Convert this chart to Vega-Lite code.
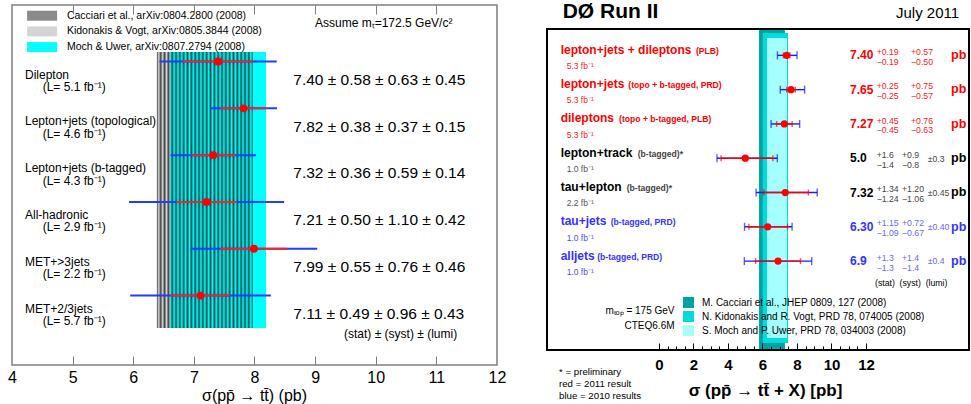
{
"$schema": "https://vega.github.io/schema/vega-lite/v6.json",
"width": 971, "height": 404, "padding": 0,
"autosize": {"type": "fit", "contains": "padding"},
"background": "white",
"datasets": {
"left": [
{"row":1,"name":"Dilepton","lumi":"(L= 5.1 fb\u207b\u00b9)","val":7.40,"statLo":6.82,"statHi":7.98,"totLo":6.433,"totHi":8.367,"txt":"7.40 ± 0.58 ± 0.63 ± 0.45"},
{"row":2,"name":"Lepton+jets (topological)","lumi":"(L= 4.6 fb\u207b\u00b9)","val":7.82,"statLo":7.44,"statHi":8.20,"totLo":7.269,"totHi":8.371,"txt":"7.82 ± 0.38 ± 0.37 ± 0.15"},
{"row":3,"name":"Lepton+jets (b-tagged)","lumi":"(L= 4.3 fb\u207b\u00b9)","val":7.32,"statLo":6.96,"statHi":7.68,"totLo":6.615,"totHi":8.025,"txt":"7.32 ± 0.36 ± 0.59 ± 0.14"},
{"row":4,"name":"All-hadronic","lumi":"(L= 2.9 fb\u207b\u00b9)","val":7.21,"statLo":6.71,"statHi":7.71,"totLo":5.931,"totHi":8.489,"txt":"7.21 ± 0.50 ± 1.10 ± 0.42"},
{"row":5,"name":"MET+>3jets","lumi":"(L= 2.2 fb\u207b\u00b9)","val":7.99,"statLo":7.44,"statHi":8.54,"totLo":6.945,"totHi":9.035,"txt":"7.99 ± 0.55 ± 0.76 ± 0.46"},
{"row":6,"name":"MET+2/3jets","lumi":"(L= 5.7 fb\u207b\u00b9)","val":7.11,"statLo":6.62,"statHi":7.60,"totLo":5.950,"totHi":8.270,"txt":"7.11 ± 0.49 ± 0.96 ± 0.43"}
],
"right": [
{"row":1,"name":"lepton+jets + dileptons","sub":"(PLB)","lumi":"5.3 fb\u207b\u00b9","grp":"2011","val":7.40,"valTxt":"7.40","stat":["+0.19","\u22120.19"],"syst":["+0.57","\u22120.50"],"lumiErr":"","statLo":7.21,"statHi":7.59,"totLo":6.865,"totHi":8.001},
{"row":2,"name":"lepton+jets","sub":"(topo + b-tagged, PRD)","lumi":"5.3 fb\u207b\u00b9","grp":"2011","val":7.65,"valTxt":"7.65","stat":["+0.25","\u22120.25"],"syst":["+0.75","\u22120.57"],"lumiErr":"","statLo":7.40,"statHi":7.90,"totLo":7.028,"totHi":8.441},
{"row":3,"name":"dileptons","sub":"(topo + b-tagged, PLB)","lumi":"5.3 fb\u207b\u00b9","grp":"2011","val":7.27,"valTxt":"7.27","stat":["+0.45","\u22120.45"],"syst":["+0.76","\u22120.63"],"lumiErr":"","statLo":6.82,"statHi":7.72,"totLo":6.496,"totHi":8.153},
{"row":4,"name":"lepton+track","sub":"(b-tagged)*","lumi":"1.0 fb\u207b\u00b9","grp":"prelim","val":5.0,"valTxt":"5.0","stat":["+1.6","\u22121.4"],"syst":["+0.9","\u22120.8"],"lumiErr":"±0.3","statLo":3.6,"statHi":6.6,"totLo":3.36,"totHi":6.86},
{"row":5,"name":"tau+lepton","sub":"(b-tagged)*","lumi":"2.2 fb\u207b\u00b9","grp":"prelim","val":7.32,"valTxt":"7.32","stat":["+1.34","\u22121.24"],"syst":["+1.20","\u22121.06"],"lumiErr":"±0.45","statLo":6.08,"statHi":8.66,"totLo":5.628,"totHi":9.174},
{"row":6,"name":"tau+jets","sub":"(b-tagged, PRD)","lumi":"1.0 fb\u207b\u00b9","grp":"2010","val":6.30,"valTxt":"6.30","stat":["+1.15","\u22121.09"],"syst":["+0.72","\u22120.67"],"lumiErr":"±0.40","statLo":5.21,"statHi":7.45,"totLo":4.959,"totHi":7.715},
{"row":7,"name":"alljets","sub":"(b-tagged, PRD)","lumi":"1.0 fb\u207b\u00b9","grp":"2010","val":6.9,"valTxt":"6.9","stat":["+1.3","\u22121.3"],"syst":["+1.4","\u22121.4"],"lumiErr":"±0.4","statLo":5.6,"statHi":8.2,"totLo":4.948,"totHi":8.852}
],
"theoryL": [
{"kind":"K","ref":"Kidonakis & Vogt, arXiv:0805.3844 (2008)","lo":6.39,"hi":8.04},
{"kind":"M","ref":"Moch & Uwer, arXiv:0807.2794 (2008)","lo":6.61,"hi":8.19},
{"kind":"C","ref":"Cacciari et al., arXiv:0804.2800 (2008)","lo":6.39,"hi":7.97}
],
"theoryR": [
{"kind":"C","ref":"M. Cacciari et al., JHEP 0809, 127 (2008)","lo":5.80,"hi":7.30},
{"kind":"K","ref":"N. Kidonakis and R. Vogt, PRD 78, 074005 (2008)","lo":6.02,"hi":7.48},
{"kind":"M","ref":"S. Moch and P. Uwer, PRD 78, 034003 (2008)","lo":6.26,"hi":7.42}
],
"one": [{}]
},
"resolve": {"scale": {"x": "independent", "y": "independent"}},
"layer": [
{"data":{"name":"theoryL"},"transform":[{"filter":"datum.kind !== 'C'"}],
 "mark":{"type":"rect"},
 "encoding":{
  "x":{"field":"lo","type":"quantitative","scale":{"domain":[3.802,19.819]},"axis":null},
  "x2":{"field":"hi"},
  "y":{"datum":0.7966,"type":"quantitative","scale":{"domain":[-0.314,8.3148],"reverse":true},"axis":null},
  "y2":{"datum":6.6915},
  "fill":{"field":"ref","type":"nominal",
   "scale":{"domain":["Cacciari et al., arXiv:0804.2800 (2008)","Kidonakis & Vogt, arXiv:0805.3844 (2008)","Moch & Uwer, arXiv:0807.2794 (2008)"],"range":["#8a8a8a","#d4d4d4","#00ffff"]},
   "legend":{"orient":"none","legendX":36.6,"legendY":10.2,"title":null,"symbolType":"M-3,-1H3V1H-3Z","symbolSize":100,"symbolStrokeColor":"#000","symbolStrokeWidth":0.8,"symbolOpacity":1,"labelFontSize":10.5,"labelOffset":19.3,"rowPadding":0.7,"padding":0,"labelLimit":500,"labelColor":"#000",
    "encode":{"symbols":{"update":{"fill":[
     {"test":"datum.index === 0","value":{"gradient":"linear","x1":0,"y1":0,"x2":1,"y2":0,"stops":[{"offset":0,"color":"#333"},{"offset":0.05,"color":"#fff"},{"offset":0.1,"color":"#333"},{"offset":0.15,"color":"#fff"},{"offset":0.2,"color":"#333"},{"offset":0.25,"color":"#fff"},{"offset":0.3,"color":"#333"},{"offset":0.35,"color":"#fff"},{"offset":0.4,"color":"#333"},{"offset":0.45,"color":"#fff"},{"offset":0.5,"color":"#333"},{"offset":0.55,"color":"#fff"},{"offset":0.6,"color":"#333"},{"offset":0.65,"color":"#fff"},{"offset":0.7,"color":"#333"},{"offset":0.75,"color":"#fff"},{"offset":0.8,"color":"#333"},{"offset":0.85,"color":"#fff"},{"offset":0.9,"color":"#333"},{"offset":0.95,"color":"#fff"},{"offset":1,"color":"#333"}]}},
     {"test":"datum.index === 1","value":{"gradient":"linear","x1":0,"y1":0,"x2":1,"y2":0.3333,"stops":[{"offset":0,"color":"#555"},{"offset":0.06,"color":"#fff"},{"offset":0.12,"color":"#555"},{"offset":0.18,"color":"#fff"},{"offset":0.24,"color":"#555"},{"offset":0.3,"color":"#fff"},{"offset":0.36,"color":"#555"},{"offset":0.42,"color":"#fff"},{"offset":0.48,"color":"#555"},{"offset":0.54,"color":"#fff"},{"offset":0.6,"color":"#555"},{"offset":0.66,"color":"#fff"},{"offset":0.72,"color":"#555"},{"offset":0.78,"color":"#fff"},{"offset":0.84,"color":"#555"},{"offset":0.9,"color":"#fff"},{"offset":0.96,"color":"#555"},{"offset":1,"color":"#fff"}]}},
     {"value":"#00ffff"}]}}}}}
 }},
{"data":{"name":"theoryL"},"transform":[{"filter":"datum.kind === 'C'"}],
 "mark":{"type":"rect","fill":{"gradient":"linear","x1":0,"y1":0,"x2":1,"y2":0,"stops":[
 {"offset":0,"color":"rgba(20,20,20,0.75)"},{"offset":0.02,"color":"rgba(20,20,20,0)"},{"offset":0.04,"color":"rgba(20,20,20,0.75)"},{"offset":0.06,"color":"rgba(20,20,20,0)"},{"offset":0.08,"color":"rgba(20,20,20,0.75)"},{"offset":0.1,"color":"rgba(20,20,20,0)"},{"offset":0.12,"color":"rgba(20,20,20,0.75)"},{"offset":0.14,"color":"rgba(20,20,20,0)"},{"offset":0.16,"color":"rgba(20,20,20,0.75)"},{"offset":0.18,"color":"rgba(20,20,20,0)"},{"offset":0.2,"color":"rgba(20,20,20,0.75)"},{"offset":0.22,"color":"rgba(20,20,20,0)"},{"offset":0.24,"color":"rgba(20,20,20,0.75)"},{"offset":0.26,"color":"rgba(20,20,20,0)"},{"offset":0.28,"color":"rgba(20,20,20,0.75)"},{"offset":0.3,"color":"rgba(20,20,20,0)"},{"offset":0.32,"color":"rgba(20,20,20,0.75)"},{"offset":0.34,"color":"rgba(20,20,20,0)"},{"offset":0.36,"color":"rgba(20,20,20,0.75)"},{"offset":0.38,"color":"rgba(20,20,20,0)"},{"offset":0.4,"color":"rgba(20,20,20,0.75)"},{"offset":0.42,"color":"rgba(20,20,20,0)"},{"offset":0.44,"color":"rgba(20,20,20,0.75)"},{"offset":0.46,"color":"rgba(20,20,20,0)"},{"offset":0.48,"color":"rgba(20,20,20,0.75)"},{"offset":0.5,"color":"rgba(20,20,20,0)"},{"offset":0.52,"color":"rgba(20,20,20,0.75)"},{"offset":0.54,"color":"rgba(20,20,20,0)"},{"offset":0.56,"color":"rgba(20,20,20,0.75)"},{"offset":0.58,"color":"rgba(20,20,20,0)"},{"offset":0.6,"color":"rgba(20,20,20,0.75)"},{"offset":0.62,"color":"rgba(20,20,20,0)"},{"offset":0.64,"color":"rgba(20,20,20,0.75)"},{"offset":0.66,"color":"rgba(20,20,20,0)"},{"offset":0.68,"color":"rgba(20,20,20,0.75)"},{"offset":0.7,"color":"rgba(20,20,20,0)"},{"offset":0.72,"color":"rgba(20,20,20,0.75)"},{"offset":0.74,"color":"rgba(20,20,20,0)"},{"offset":0.76,"color":"rgba(20,20,20,0.75)"},{"offset":0.78,"color":"rgba(20,20,20,0)"},{"offset":0.8,"color":"rgba(20,20,20,0.75)"},{"offset":0.82,"color":"rgba(20,20,20,0)"},{"offset":0.84,"color":"rgba(20,20,20,0.75)"},{"offset":0.86,"color":"rgba(20,20,20,0)"},{"offset":0.88,"color":"rgba(20,20,20,0.75)"},{"offset":0.9,"color":"rgba(20,20,20,0)"},{"offset":0.92,"color":"rgba(20,20,20,0.75)"},{"offset":0.94,"color":"rgba(20,20,20,0)"},{"offset":0.96,"color":"rgba(20,20,20,0.75)"},{"offset":0.98,"color":"rgba(20,20,20,0)"},{"offset":1,"color":"rgba(20,20,20,0.75)"}]}},
 "encoding":{
  "x":{"field":"lo","type":"quantitative","scale":{"domain":[3.802,19.819]},"axis":null},
  "x2":{"field":"hi"},
  "y":{"datum":0.7966,"type":"quantitative","scale":{"domain":[-0.314,8.3148],"reverse":true},"axis":null},
  "y2":{"datum":6.6915}
 }},
{"data":{"name":"left"},
 "mark":{"type":"rule","color":"#1f3fff","strokeWidth":2},
 "encoding":{
  "x":{"field":"totLo","type":"quantitative","scale":{"domain":[3.802,19.819]},
   "axis":{"orient":"bottom","offset":-39,"ticks":false,"values":[4,5,6,7,8,9,10,11,12],"labelFontSize":16,"labelPadding":4,"title":"σ(pp\u0304 → tt\u0304) (pb)","titleFontSize":16,"titleFontWeight":"normal","titleX":254,"titleY":35.5,"titleBaseline":"alphabetic","titleAlign":"center","zindex":1}},
  "x2":{"field":"totHi"},
  "y":{"field":"row","type":"quantitative","scale":{"domain":[-0.314,8.3148],"reverse":true},"axis":null}
 }},
{"data":{"name":"left"},
 "mark":{"type":"rule","color":"#ff1f1f","strokeWidth":2},
 "encoding":{
  "x":{"field":"statLo","type":"quantitative","scale":{"domain":[3.802,19.819]},
   "axis":{"orient":"top","offset":-5,"labels":false,"tickSize":-9,"tickColor":"#7f7f7f","values":[5,6,7,8,9,10,11],"title":null,"zindex":1}},
  "x2":{"field":"statHi"},
  "y":{"field":"row","type":"quantitative","scale":{"domain":[-0.314,8.3148],"reverse":true},"axis":null}
 }},
{"data":{"name":"left"},
 "mark":{"type":"point","filled":true,"color":"#ff0000","size":62,"opacity":1},
 "encoding":{
  "x":{"field":"val","type":"quantitative","scale":{"domain":[3.802,19.819]},"axis":null},
  "y":{"field":"row","type":"quantitative","scale":{"domain":[-0.314,8.3148],"reverse":true},"axis":null}
 }},
{"data":{"name":"left"},
 "mark":{"type":"text","align":"left","baseline":"alphabetic","dy":17,"fontSize":12,"color":"#000"},
 "encoding":{
  "x":{"datum":4.214,"type":"quantitative","scale":{"domain":[3.802,19.819]},"axis":null},
  "y":{"field":"row","type":"quantitative","scale":{"domain":[-0.314,8.3148],"reverse":true},"axis":null},
  "text":{"field":"name"}
 }},
{"data":{"name":"left"},
 "mark":{"type":"text","align":"left","baseline":"alphabetic","dy":29.5,"fontSize":12,"color":"#000"},
 "encoding":{
  "x":{"datum":4.506,"type":"quantitative","scale":{"domain":[3.802,19.819]},"axis":null},
  "y":{"field":"row","type":"quantitative","scale":{"domain":[-0.314,8.3148],"reverse":true},"axis":null},
  "text":{"field":"lumi"}
 }},
{"data":{"name":"left"},
 "mark":{"type":"text","align":"left","baseline":"alphabetic","dy":23.3,"fontSize":15.5,"color":"#000"},
 "encoding":{
  "x":{"datum":8.640,"type":"quantitative","scale":{"domain":[3.802,19.819]},"axis":null},
  "y":{"field":"row","type":"quantitative","scale":{"domain":[-0.314,8.3148],"reverse":true},"axis":null},
  "text":{"field":"txt"}
 }},
{"data":{"name":"one"},
 "mark":{"type":"text","align":"left","baseline":"alphabetic","fontSize":12,"color":"#000","text":"(stat) ± (syst) ± (lumi)"},
 "encoding":{
  "x":{"datum":9.476,"type":"quantitative","scale":{"domain":[3.802,19.819]},"axis":null},
  "y":{"datum":6.8945,"type":"quantitative","scale":{"domain":[-0.314,8.3148],"reverse":true},"axis":null}
 }},
{"data":{"name":"one"},
 "mark":{"type":"text","align":"left","baseline":"alphabetic","fontSize":12,"color":"#000","text":"Assume m\u209c=172.5 GeV/c\u00b2"},
 "encoding":{
  "x":{"datum":8.998,"type":"quantitative","scale":{"domain":[3.802,19.819]},"axis":null},
  "y":{"datum":0.252,"type":"quantitative","scale":{"domain":[-0.314,8.3148],"reverse":true},"axis":null}
 }},
{"data":{"name":"one"},
 "mark":{"type":"rect","filled":false,"color":"#7f7f7f","strokeWidth":1.5},
 "encoding":{
  "x":{"datum":4,"type":"quantitative","scale":{"domain":[3.802,19.819]},
   "axis":{"orient":"bottom","offset":-39,"labels":false,"tickSize":-9,"tickColor":"#7f7f7f","values":[5,6,7,8,9,10,11],"title":null,"zindex":1}},
  "x2":{"datum":12},
  "y":{"datum":-0.2072,"type":"quantitative","scale":{"domain":[-0.314,8.3148],"reverse":true},"axis":null},
  "y2":{"datum":7.4818}
 }},
{"data":{"name":"theoryR"},"transform":[{"filter":"datum.kind === 'C'"}],
 "mark":{"type":"rect"},
 "encoding":{
  "x":{"field":"lo","type":"quantitative","scale":{"domain":[-38.203,18.087]},
   "axis":{"orient":"bottom","offset":-54,"labels":false,"tickSize":-4,"tickColor":"#000","values":[0,0.5,1,1.5,2,2.5,3,3.5,4,4.5,5,5.5,6,6.5,7,7.5,8,8.5,9,9.5,10,10.5,11,11.5,12],"title":null,"zindex":1}},
  "x2":{"field":"hi"},
  "y":{"datum":0.2313,"type":"quantitative","scale":{"domain":[-0.6145,11.1674],"reverse":true},"axis":null},
  "y2":{"datum":9.5929},
  "color":{"field":"ref","type":"nominal","scale":{"domain":["M. Cacciari et al., JHEP 0809, 127 (2008)","N. Kidonakis and R. Vogt, PRD 78, 074005 (2008)","S. Moch and P. Uwer, PRD 78, 034003 (2008)"],"range":["#00a3a3","#00dcdc","#a6ffff"]},
   "legend":{"orient":"none","legendX":683,"legendY":297,"title":null,"symbolType":"square","symbolSize":121,"symbolStrokeWidth":0,"symbolOpacity":1,"labelFontSize":10,"labelOffset":8,"rowPadding":3,"padding":0,"labelLimit":500,"labelColor":"#000"}}
 }},
{"data":{"name":"theoryR"},"transform":[{"filter":"datum.kind === 'K'"}],
 "mark":{"type":"rect"},
 "encoding":{
  "x":{"field":"lo","type":"quantitative","scale":{"domain":[-38.203,18.087]},"axis":null},
  "x2":{"field":"hi"},
  "y":{"datum":0.348,"type":"quantitative","scale":{"domain":[-0.6145,11.1674],"reverse":true},"axis":null},
  "y2":{"datum":9.3887},
  "color":{"field":"ref","type":"nominal","scale":{"domain":["M. Cacciari et al., JHEP 0809, 127 (2008)","N. Kidonakis and R. Vogt, PRD 78, 074005 (2008)","S. Moch and P. Uwer, PRD 78, 034003 (2008)"],"range":["#00a3a3","#00dcdc","#a6ffff"]},
   "legend":{"orient":"none","legendX":683,"legendY":297,"title":null,"symbolType":"square","symbolSize":121,"symbolStrokeWidth":0,"symbolOpacity":1,"labelFontSize":10,"labelOffset":8,"rowPadding":3,"padding":0,"labelLimit":500,"labelColor":"#000"}}
 }},
{"data":{"name":"theoryR"},"transform":[{"filter":"datum.kind === 'M'"}],
 "mark":{"type":"rect"},
 "encoding":{
  "x":{"field":"lo","type":"quantitative","scale":{"domain":[-38.203,18.087]},"axis":null},
  "x2":{"field":"hi"},
  "y":{"datum":0.4938,"type":"quantitative","scale":{"domain":[-0.6145,11.1674],"reverse":true},"axis":null},
  "y2":{"datum":9.2429},
  "color":{"field":"ref","type":"nominal","scale":{"domain":["M. Cacciari et al., JHEP 0809, 127 (2008)","N. Kidonakis and R. Vogt, PRD 78, 074005 (2008)","S. Moch and P. Uwer, PRD 78, 034003 (2008)"],"range":["#00a3a3","#00dcdc","#a6ffff"]},
   "legend":{"orient":"none","legendX":683,"legendY":297,"title":null,"symbolType":"square","symbolSize":121,"symbolStrokeWidth":0,"symbolOpacity":1,"labelFontSize":10,"labelOffset":8,"rowPadding":3,"padding":0,"labelLimit":500,"labelColor":"#000"}}
 }},
{"data":{"name":"right"},
 "mark":{"type":"errorbar","color":"#1a1aff","thickness":1.4,"size":8,"ticks":true},
 "encoding":{
  "x":{"field":"totLo","type":"quantitative","scale":{"domain":[-38.203,18.087]},
   "axis":{"orient":"bottom","offset":-54,"ticks":false,"values":[0,2,4,6,8,10,12],"labelFontSize":15,"labelFontWeight":"bold","labelPadding":7,"title":"σ (pp\u0304 → tt\u0304 + X) [pb]","titleFontSize":17,"titleFontWeight":"bold","titleX":765,"titleY":45.5,"titleBaseline":"alphabetic","titleAlign":"center","zindex":1}},
  "x2":{"field":"totHi"},
  "y":{"field":"row","type":"quantitative","scale":{"domain":[-0.6145,11.1674],"reverse":true},"axis":null}
 }},
{"data":{"name":"right"},
 "mark":{"type":"errorbar","color":"#ff0000","thickness":1.4,"size":6,"ticks":true},
 "encoding":{
  "x":{"field":"statLo","type":"quantitative","scale":{"domain":[-38.203,18.087]},"axis":null},
  "x2":{"field":"statHi"},
  "y":{"field":"row","type":"quantitative","scale":{"domain":[-0.6145,11.1674],"reverse":true},"axis":null}
 }},
{"data":{"name":"right"},
 "mark":{"type":"point","filled":true,"color":"#ff0000","size":52,"opacity":1},
 "encoding":{
  "x":{"field":"val","type":"quantitative","scale":{"domain":[-38.203,18.087]},"axis":null},
  "y":{"field":"row","type":"quantitative","scale":{"domain":[-0.6145,11.1674],"reverse":true},"axis":null}
 }},
{"data":{"name":"right"},
 "mark":{"type":"text","align":"left","baseline":"alphabetic","dy":-1.6,"fontSize":12,"fontWeight":"bold"},
 "encoding":{
  "x":{"datum":-5.699,"type":"quantitative","scale":{"domain":[-38.203,18.087]},"axis":null},
  "y":{"field":"row","type":"quantitative","scale":{"domain":[-0.6145,11.1674],"reverse":true},"axis":null},
  "text":{"field":"name"},
  "color":{"condition":[{"test":"datum.grp === '2011'","value":"#ff0000"},{"test":"datum.grp === 'prelim'","value":"#000000"}],"value":"#3333ff"}
 }},
{"data":{"name":"right"},"transform":[{"filter":"datum.row === 1"}],
 "mark":{"type":"text","align":"left","baseline":"alphabetic","dy":-1.6,"fontSize":8.6,"fontWeight":"bold"},
 "encoding":{
  "x":{"datum":2.145,"type":"quantitative","scale":{"domain":[-38.203,18.087]},"axis":null},
  "y":{"field":"row","type":"quantitative","scale":{"domain":[-0.6145,11.1674],"reverse":true},"axis":null},
  "text":{"field":"sub"},
  "color":{"condition":[{"test":"datum.grp === '2011'","value":"#ff0000"},{"test":"datum.grp === 'prelim'","value":"#444444"}],"value":"#3333ff"}
 }},
{"data":{"name":"right"},"transform":[{"filter":"datum.row === 2"}],
 "mark":{"type":"text","align":"left","baseline":"alphabetic","dy":-1.6,"fontSize":8.6,"fontWeight":"bold"},
 "encoding":{
  "x":{"datum":-1.777,"type":"quantitative","scale":{"domain":[-38.203,18.087]},"axis":null},
  "y":{"field":"row","type":"quantitative","scale":{"domain":[-0.6145,11.1674],"reverse":true},"axis":null},
  "text":{"field":"sub"},
  "color":{"condition":[{"test":"datum.grp === '2011'","value":"#ff0000"},{"test":"datum.grp === 'prelim'","value":"#444444"}],"value":"#3333ff"}
 }},
{"data":{"name":"right"},"transform":[{"filter":"datum.row === 3"}],
 "mark":{"type":"text","align":"left","baseline":"alphabetic","dy":-1.6,"fontSize":8.6,"fontWeight":"bold"},
 "encoding":{
  "x":{"datum":-2.316,"type":"quantitative","scale":{"domain":[-38.203,18.087]},"axis":null},
  "y":{"field":"row","type":"quantitative","scale":{"domain":[-0.6145,11.1674],"reverse":true},"axis":null},
  "text":{"field":"sub"},
  "color":{"condition":[{"test":"datum.grp === '2011'","value":"#ff0000"},{"test":"datum.grp === 'prelim'","value":"#444444"}],"value":"#3333ff"}
 }},
{"data":{"name":"right"},"transform":[{"filter":"datum.row === 4"}],
 "mark":{"type":"text","align":"left","baseline":"alphabetic","dy":-1.6,"fontSize":8.6,"fontWeight":"bold"},
 "encoding":{
  "x":{"datum":-1.235,"type":"quantitative","scale":{"domain":[-38.203,18.087]},"axis":null},
  "y":{"field":"row","type":"quantitative","scale":{"domain":[-0.6145,11.1674],"reverse":true},"axis":null},
  "text":{"field":"sub"},
  "color":{"condition":[{"test":"datum.grp === '2011'","value":"#ff0000"},{"test":"datum.grp === 'prelim'","value":"#444444"}],"value":"#3333ff"}
 }},
{"data":{"name":"right"},"transform":[{"filter":"datum.row === 5"}],
 "mark":{"type":"text","align":"left","baseline":"alphabetic","dy":-1.6,"fontSize":8.6,"fontWeight":"bold"},
 "encoding":{
  "x":{"datum":-1.873,"type":"quantitative","scale":{"domain":[-38.203,18.087]},"axis":null},
  "y":{"field":"row","type":"quantitative","scale":{"domain":[-0.6145,11.1674],"reverse":true},"axis":null},
  "text":{"field":"sub"},
  "color":{"condition":[{"test":"datum.grp === '2011'","value":"#ff0000"},{"test":"datum.grp === 'prelim'","value":"#444444"}],"value":"#3333ff"}
 }},
{"data":{"name":"right"},"transform":[{"filter":"datum.row === 6"}],
 "mark":{"type":"text","align":"left","baseline":"alphabetic","dy":-1.6,"fontSize":8.6,"fontWeight":"bold"},
 "encoding":{
  "x":{"datum":-2.801,"type":"quantitative","scale":{"domain":[-38.203,18.087]},"axis":null},
  "y":{"field":"row","type":"quantitative","scale":{"domain":[-0.6145,11.1674],"reverse":true},"axis":null},
  "text":{"field":"sub"},
  "color":{"condition":[{"test":"datum.grp === '2011'","value":"#ff0000"},{"test":"datum.grp === 'prelim'","value":"#444444"}],"value":"#3333ff"}
 }},
{"data":{"name":"right"},"transform":[{"filter":"datum.row === 7"}],
 "mark":{"type":"text","align":"left","baseline":"alphabetic","dy":-1.6,"fontSize":8.6,"fontWeight":"bold"},
 "encoding":{
  "x":{"datum":-3.58,"type":"quantitative","scale":{"domain":[-38.203,18.087]},"axis":null},
  "y":{"field":"row","type":"quantitative","scale":{"domain":[-0.6145,11.1674],"reverse":true},"axis":null},
  "text":{"field":"sub"},
  "color":{"condition":[{"test":"datum.grp === '2011'","value":"#ff0000"},{"test":"datum.grp === 'prelim'","value":"#444444"}],"value":"#3333ff"}
 }},
{"data":{"name":"right"},
 "mark":{"type":"text","align":"left","baseline":"alphabetic","dy":13.8,"fontSize":8.5},
 "encoding":{
  "x":{"datum":-5.351,"type":"quantitative","scale":{"domain":[-38.203,18.087]},"axis":null},
  "y":{"field":"row","type":"quantitative","scale":{"domain":[-0.6145,11.1674],"reverse":true},"axis":null},
  "text":{"field":"lumi"},
  "color":{"condition":[{"test":"datum.grp === '2011'","value":"#ff2020"},{"test":"datum.grp === 'prelim'","value":"#555555"}],"value":"#4d4dff"}
 }},
{"data":{"name":"right"},
 "mark":{"type":"text","align":"left","baseline":"alphabetic","dy":4,"fontSize":12,"fontWeight":"bold"},
 "encoding":{
  "x":{"datum":11.072,"type":"quantitative","scale":{"domain":[-38.203,18.087]},"axis":null},
  "y":{"field":"row","type":"quantitative","scale":{"domain":[-0.6145,11.1674],"reverse":true},"axis":null},
  "text":{"field":"valTxt"},
  "color":{"condition":[{"test":"datum.grp === '2011'","value":"#ff0000"},{"test":"datum.grp === 'prelim'","value":"#000000"}],"value":"#3333ff"}
 }},
{"data":{"name":"right"},
 "mark":{"type":"text","align":"left","baseline":"alphabetic","dy":-0.35,"fontSize":8.7,"lineHeight":9.9},
 "encoding":{
  "x":{"datum":12.62,"type":"quantitative","scale":{"domain":[-38.203,18.087]},"axis":null},
  "y":{"field":"row","type":"quantitative","scale":{"domain":[-0.6145,11.1674],"reverse":true},"axis":null},
  "text":{"field":"stat"},
  "color":{"condition":[{"test":"datum.grp === '2011'","value":"#ff2020"},{"test":"datum.grp === 'prelim'","value":"#444444"}],"value":"#6666ff"}
 }},
{"data":{"name":"right"},"transform":[{"filter":"datum.row <= 3"}],
 "mark":{"type":"text","align":"left","baseline":"alphabetic","dy":-0.35,"fontSize":8.7,"lineHeight":9.9},
 "encoding":{
  "x":{"datum":14.609,"type":"quantitative","scale":{"domain":[-38.203,18.087]},"axis":null},
  "y":{"field":"row","type":"quantitative","scale":{"domain":[-0.6145,11.1674],"reverse":true},"axis":null},
  "text":{"field":"syst"},
  "color":{"condition":[{"test":"datum.grp === '2011'","value":"#ff2020"},{"test":"datum.grp === 'prelim'","value":"#444444"}],"value":"#6666ff"}
 }},
{"data":{"name":"right"},"transform":[{"filter":"datum.row >= 4"}],
 "mark":{"type":"text","align":"left","baseline":"alphabetic","dy":-0.35,"fontSize":8.7,"lineHeight":9.9},
 "encoding":{
  "x":{"datum":14.087,"type":"quantitative","scale":{"domain":[-38.203,18.087]},"axis":null},
  "y":{"field":"row","type":"quantitative","scale":{"domain":[-0.6145,11.1674],"reverse":true},"axis":null},
  "text":{"field":"syst"},
  "color":{"condition":[{"test":"datum.grp === '2011'","value":"#ff2020"},{"test":"datum.grp === 'prelim'","value":"#444444"}],"value":"#6666ff"}
 }},
{"data":{"name":"right"},"transform":[{"filter":"datum.row >= 4"}],
 "mark":{"type":"text","align":"left","baseline":"alphabetic","dy":3.3,"fontSize":8.7},
 "encoding":{
  "x":{"datum":15.577,"type":"quantitative","scale":{"domain":[-38.203,18.087]},"axis":null},
  "y":{"field":"row","type":"quantitative","scale":{"domain":[-0.6145,11.1674],"reverse":true},"axis":null},
  "text":{"field":"lumiErr"},
  "color":{"condition":[{"test":"datum.grp === '2011'","value":"#ff2020"},{"test":"datum.grp === 'prelim'","value":"#444444"}],"value":"#6666ff"}
 }},
{"data":{"name":"right"},
 "mark":{"type":"text","align":"left","baseline":"alphabetic","dy":3.8,"fontSize":12.5,"fontWeight":"bold","text":"pb"},
 "encoding":{
  "x":{"datum":16.928,"type":"quantitative","scale":{"domain":[-38.203,18.087]},"axis":null},
  "y":{"field":"row","type":"quantitative","scale":{"domain":[-0.6145,11.1674],"reverse":true},"axis":null},
  "color":{"condition":[{"test":"datum.grp === '2011'","value":"#ff0000"},{"test":"datum.grp === 'prelim'","value":"#000000"}],"value":"#3333ff"}
 }},
{"data":{"name":"one"},
 "mark":{"type":"text","align":"left","baseline":"middle","fontSize":8.7,"color":"#000","text":"(stat) \u00a0(syst) \u00a0(lumi)"},
 "encoding":{
  "x":{"datum":12.522,"type":"quantitative","scale":{"domain":[-38.203,18.087]},"axis":null},
  "y":{"datum":7.645,"type":"quantitative","scale":{"domain":[-0.6145,11.1674],"reverse":true},"axis":null}
 }},
{"data":{"name":"one"},
 "mark":{"type":"text","align":"right","baseline":"alphabetic","fontSize":10,"lineHeight":15,"color":"#000","text":["m\u209c\u2092\u209a = 175 GeV","CTEQ6.6M"]},
 "encoding":{
  "x":{"datum":0.9,"type":"quantitative","scale":{"domain":[-38.203,18.087]},"axis":null},
  "y":{"datum":8.54,"type":"quantitative","scale":{"domain":[-0.6145,11.1674],"reverse":true},"axis":null}
 }},
{"data":{"name":"one"},
 "mark":{"type":"text","align":"left","baseline":"alphabetic","fontSize":9.7,"lineHeight":11.7,"color":"#000","text":["* = preliminary","red = 2011 result","blue = 2010 results"]},
 "encoding":{
  "x":{"datum":-5.797,"type":"quantitative","scale":{"domain":[-38.203,18.087]},"axis":null},
  "y":{"datum":10.336,"type":"quantitative","scale":{"domain":[-0.6145,11.1674],"reverse":true},"axis":null}
 }},
{"data":{"name":"one"},
 "mark":{"type":"text","align":"left","baseline":"alphabetic","fontSize":21,"fontWeight":"bold","color":"#000","text":"D\u00d8 Run II"},
 "encoding":{
  "x":{"datum":-5.583,"type":"quantitative","scale":{"domain":[-38.203,18.087]},"axis":null},
  "y":{"datum":-0.083,"type":"quantitative","scale":{"domain":[-0.6145,11.1674],"reverse":true},"axis":null}
 }},
{"data":{"name":"one"},
 "mark":{"type":"text","align":"left","baseline":"alphabetic","fontSize":15,"color":"#000","text":"July 2011"},
 "encoding":{
  "x":{"datum":13.739,"type":"quantitative","scale":{"domain":[-38.203,18.087]},"axis":null},
  "y":{"datum":-0.083,"type":"quantitative","scale":{"domain":[-0.6145,11.1674],"reverse":true},"axis":null}
 }},
{"data":{"name":"one"},
 "mark":{"type":"rect","filled":false,"color":"#000","strokeWidth":2},
 "encoding":{
  "x":{"datum":-6.493,"type":"quantitative","scale":{"domain":[-38.203,18.087]},
   "axis":{"orient":"bottom","offset":-54,"labels":false,"tickSize":-7,"tickColor":"#000","values":[0,2,4,6,8,10,12],"title":null,"zindex":1}},
  "x2":{"datum":17.971},
  "y":{"datum":0.2313,"type":"quantitative","scale":{"domain":[-0.6145,11.1674],"reverse":true},"axis":null},
  "y2":{"datum":9.5929}
 }}
],
"config": {
 "font": "Liberation Sans",
 "view": {"stroke": null},
 "axis": {"grid": false, "domain": false, "labelFlush": false, "labelOverlap": false, "labelFont": "Liberation Sans", "titleFont": "Liberation Sans", "labelColor": "#000", "titleColor": "#000", "tickColor": "#000"},
 "legend": {"labelFont": "Liberation Sans"},
 "scale": {"continuousPadding": 0}
}
}
